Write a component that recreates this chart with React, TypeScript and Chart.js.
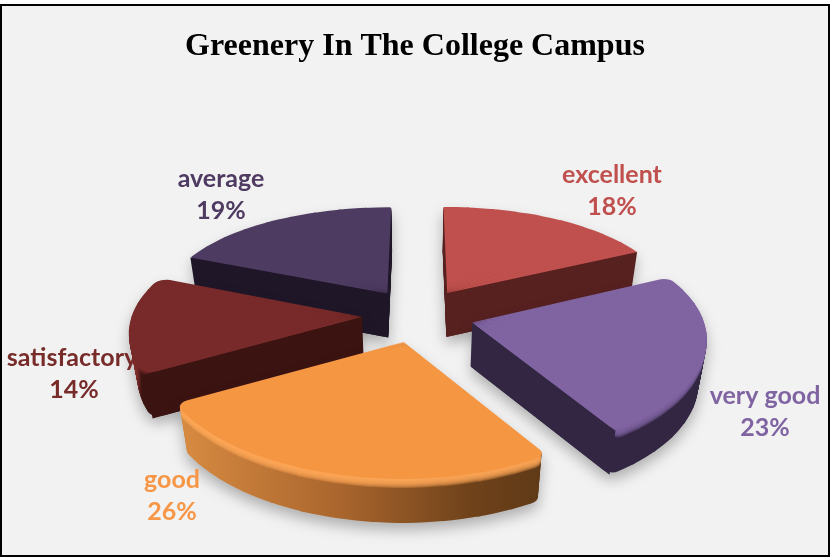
import { useEffect, useRef } from 'react';
import { Chart, registerables } from 'chart.js';

Chart.register(...registerables);

const chartTitle = 'Greenery In The College Campus';
const categories = ['excellent', 'very good', 'good', 'satisfactory', 'average'];
const percentages = [18, 23, 26, 14, 19];
const faceColors = ['#c0504d', '#8064a2', '#f59642', '#772a29', '#4e3b62'];
const labelColors = ['#c0504d', '#8064a2', '#f79646', '#772c2a', '#4f3b62'];
const wallColors = ['#572120', '#322642', '#6a3f18', '#3b1412', '#1f1728'];
const bevelColors = ['#c0504d', '#8064a2', '#ffa858', '#772a29', '#4e3b62'];
const rimStops: [number, string][][] = [
  [[0, '#572120'], [1, '#572120']],
  [[0, '#322642'], [1, '#322642']],
  [[0, '#d98c42'], [0.45, '#a9652d'], [0.8, '#6f421a'], [1, '#5f3917']],
  [[0, '#822d2b'], [0.05, '#7c2b29'], [0.07, '#3b1412'], [1, '#3b1412']],
  [[0, '#1f1728'], [1, '#1f1728']],
];
const rimExtents: [number, number][] = [[440, 640], [470, 710], [175, 545], [125, 365], [190, 395]];
const cornerRounding = [1, 10, 12, 12, 3];
const bevelHeights = [0, 9, 9, 4, 0];
const widthScales = [1, 1, 1.035, 1, 1];
const drawOrder = [4, 0, 3, 1, 2];
const labelAnchors: [number, number][] = [[612, 175], [765, 396], [172, 480], [72, 358], [221, 179]];

const W = 830;
const H = 560;
const CX = 418;
const CY = 315;
const RADIUS = 230;
const EXPLODE = 56;
const DEPTH = 44;
const WEDGE_STEP = (8 * Math.PI) / 180;
const WEDGE_OVERLAP = (0.4 * Math.PI) / 180;

function project(u: number, v: number, level: number): [number, number] {
  const w = 1 + 0.00055 * v;
  const x = CX + u * w;
  const y = CY + 0.482 * v + 0.000333 * v * v;
  return [x - (x - CX) * 0.03 * (level / DEPTH), y + level];
}

// The apex of a slice in pie-plane units (ArcElement moves a slice by a quarter of its offset option).
function apexOf(startAngle: number, endAngle: number, offsetOption: number) {
  const mid = (startAngle + endAngle) / 2;
  const off = offsetOption / 4;
  return [Math.cos(mid) * off, Math.sin(mid) * off];
}

function planePoint(apex: number[], r: number, angle: number, i: number): [number, number] {
  const k = RADIUS / r;
  return [(apex[0] + r * Math.cos(angle) * widthScales[i]) * k, (apex[1] + r * Math.sin(angle)) * k];
}

function wedgeAffine(arc: any, i: number, apex: number[], a0: number, a1: number, level: number) {
  const r = arc.outerRadius;
  const k = RADIUS / r;
  const s0 = project(apex[0] * k, apex[1] * k, level);
  const p1 = planePoint(apex, r, a0, i);
  const p2 = planePoint(apex, r, a1, i);
  const s1 = project(p1[0], p1[1], level);
  const s2 = project(p2[0], p2[1], level);
  const m00 = r * Math.cos(a0);
  const m01 = r * Math.cos(a1);
  const m10 = r * Math.sin(a0);
  const m11 = r * Math.sin(a1);
  const det = m00 * m11 - m01 * m10;
  const n00 = s1[0] - s0[0];
  const n01 = s2[0] - s0[0];
  const n10 = s1[1] - s0[1];
  const n11 = s2[1] - s0[1];
  const a = (n00 * m11 - n01 * m10) / det;
  const c = (-n00 * m01 + n01 * m00) / det;
  const b = (n10 * m11 - n11 * m10) / det;
  const d = (-n10 * m01 + n11 * m00) / det;
  const e = s0[0] - a * arc.x - c * arc.y;
  const f = s0[1] - b * arc.x - d * arc.y;
  return [a, b, c, d, e, f] as const;
}

// A slice is drawn by ArcElement as a fan of narrow wedges, each with its own
// affine approximation of the perspective projection.
function paintArc(ctx: CanvasRenderingContext2D, arc: any, i: number, level: number, color: string) {
  const { startAngle, endAngle, circumference, options } = arc;
  const span = endAngle - startAngle;
  const n = Math.max(2, Math.ceil(span / WEDGE_STEP));
  const apex = apexOf(startAngle, endAngle, options.offset);
  const rounding = cornerRounding[i];
  for (let k = 0; k < n; k++) {
    const a0 = startAngle + (span * k) / n - (k > 0 ? WEDGE_OVERLAP : 0);
    const a1 = startAngle + (span * (k + 1)) / n + (k < n - 1 ? WEDGE_OVERLAP : 0);
    ctx.save();
    const t = wedgeAffine(arc, i, apex, a0, a1, level);
    ctx.transform(t[0], t[1], t[2], t[3], t[4], t[5]);
    arc.startAngle = a0;
    arc.endAngle = a1;
    arc.circumference = a1 - a0;
    arc.options = {
      ...options,
      offset: 0,
      backgroundColor: color,
      borderRadius: {
        outerStart: k === 0 ? rounding : 0,
        outerEnd: k === n - 1 ? rounding : 0,
        innerStart: 0,
        innerEnd: 0,
      },
    };
    arc.draw(ctx);
    ctx.restore();
  }
  arc.startAngle = startAngle;
  arc.endAngle = endAngle;
  arc.circumference = circumference;
  arc.options = options;
}

function paintCutWalls(ctx: CanvasRenderingContext2D, arc: any, i: number, color: string) {
  const apex = apexOf(arc.startAngle, arc.endAngle, arc.options.offset);
  const r = arc.outerRadius;
  const k = RADIUS / r;
  const plane: [number, number][] = [
    [apex[0] * k, apex[1] * k],
    planePoint(apex, r, arc.startAngle, i),
    planePoint(apex, r, arc.endAngle, i),
  ];
  const top = plane.map(([u, v]) => project(u, v, 0));
  const bottom = plane.map(([u, v]) => project(u, v, DEPTH));
  [[1, 2], [2, 1]].forEach(([edge, other]) => {
    const A = top[0];
    const C = top[edge];
    const O = top[other];
    const dx = C[0] - A[0];
    if (Math.abs(dx) < 1) return;
    const lineY = A[1] + ((C[1] - A[1]) / dx) * (O[0] - A[0]);
    if (O[1] >= lineY) return;
    ctx.beginPath();
    ctx.moveTo(A[0], A[1]);
    ctx.lineTo(C[0], C[1]);
    ctx.lineTo(bottom[edge][0], bottom[edge][1]);
    ctx.lineTo(bottom[0][0], bottom[0][1]);
    ctx.closePath();
    ctx.fillStyle = color;
    ctx.fill();
  });
}

function paintSlice(ctx: CanvasRenderingContext2D, arc: any, i: number) {
  const layer = document.createElement('canvas');
  layer.width = W;
  layer.height = H;
  const lc = layer.getContext('2d') as CanvasRenderingContext2D;
  for (let level = DEPTH; level >= 1; level--) paintArc(lc, arc, i, level, '#000');
  lc.globalCompositeOperation = 'source-in';
  const [x0, x1] = rimExtents[i];
  const g = lc.createLinearGradient(x0, 0, x1, 0);
  rimStops[i].forEach(([s, c]) => g.addColorStop(s, c));
  lc.fillStyle = g;
  lc.fillRect(0, 0, W, H);

  ctx.save();
  ctx.shadowColor = 'rgba(0,0,0,0.28)';
  ctx.shadowBlur = 14;
  ctx.shadowOffsetY = 7;
  ctx.drawImage(layer, 0, 0);
  ctx.restore();

  // Soft bevel: each level is flattened first, so that overlapping wedges do not double the alpha.
  const bevel = document.createElement('canvas');
  bevel.width = W;
  bevel.height = H;
  const bc = bevel.getContext('2d') as CanvasRenderingContext2D;
  for (let level = bevelHeights[i]; level >= 1; level--) {
    bc.clearRect(0, 0, W, H);
    paintArc(bc, arc, i, level, bevelColors[i]);
    ctx.save();
    ctx.globalAlpha = 0.3;
    ctx.drawImage(bevel, 0, 0);
    ctx.restore();
  }

  paintCutWalls(ctx, arc, i, wallColors[i]);
  paintArc(ctx, arc, i, 0, faceColors[i]);
}

const panelPlugin = {
  id: 'panel',
  beforeDraw(chart: any) {
    const { ctx } = chart;
    ctx.save();
    ctx.fillStyle = '#ffffff';
    ctx.fillRect(0, 0, W, H);
    ctx.fillStyle = '#f2f2f2';
    ctx.strokeStyle = '#000000';
    ctx.lineWidth = 2;
    ctx.beginPath();
    ctx.rect(1, 5, 828, 551);
    ctx.fill();
    ctx.stroke();
    ctx.restore();
  },
};

const pie3dPlugin = {
  id: 'pie3d',
  beforeDatasetsDraw(chart: any) {
    const arcs = chart.getDatasetMeta(0).data;
    drawOrder.forEach((i) => paintSlice(chart.ctx, arcs[i], i));
    return false;
  },
};

const labelPlugin = {
  id: 'sliceLabels',
  afterDraw(chart: any) {
    const { ctx } = chart;
    ctx.save();
    ctx.font = 'bold 25px Lato';
    ctx.textAlign = 'center';
    ctx.textBaseline = 'middle';
    categories.forEach((name, i) => {
      const [x, y] = labelAnchors[i];
      ctx.fillStyle = labelColors[i];
      ctx.fillText(name, x, y);
      ctx.fillText(`${percentages[i]}%`, x + (i === 3 ? 2 : 0), y + 32);
    });
    ctx.restore();
  },
};

export default function App() {
  const ref = useRef<HTMLCanvasElement>(null);
  useEffect(() => {
    const chart = new Chart(ref.current as HTMLCanvasElement, {
      type: 'pie',
      data: {
        labels: categories,
        datasets: [
          {
            data: percentages,
            backgroundColor: faceColors,
            borderWidth: 0,
            offset: EXPLODE * 4,
          },
        ],
      },
      options: {
        responsive: false,
        animation: false,
        devicePixelRatio: 1,
        radius: RADIUS,
        layout: { padding: 0 },
        plugins: {
          legend: { display: false },
          tooltip: { enabled: false },
          title: {
            display: true,
            text: chartTitle,
            color: '#000000',
            font: { family: 'Liberation Serif', weight: 'bold', size: 32 },
            padding: { top: 28, bottom: 10 },
          },
        },
      },
      plugins: [panelPlugin, pie3dPlugin, labelPlugin],
    } as any);
    return () => chart.destroy();
  }, []);
  return (
    <div style={{ position: 'absolute', left: 0, top: 0, width: W, height: H }}>
      <canvas ref={ref} width={W} height={H} style={{ display: 'block' }} />
    </div>
  );
}
